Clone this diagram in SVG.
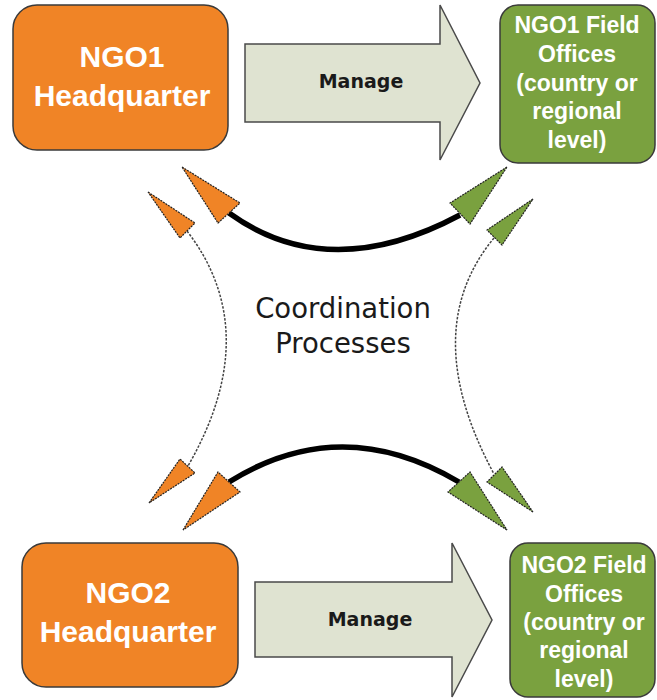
<svg xmlns="http://www.w3.org/2000/svg" width="657" height="700" viewBox="0 0 657 700">
<style>
.hq{fill:#f08426;stroke:#3a3a3a;stroke-width:1.5}
.fo{fill:#7aa13f;stroke:#3a3a3a;stroke-width:1.5}
.mg{fill:#dfe3d1;stroke:#4a4a4a;stroke-width:1.5}
.hqt{font-family:"Liberation Sans",Arial,sans-serif;font-weight:bold;font-size:30px;fill:#ffffff;text-anchor:middle}
.fot{font-family:"Liberation Sans",Arial,sans-serif;font-weight:bold;font-size:23px;fill:#ffffff;text-anchor:middle}
.mgt{font-family:"DejaVu Sans",Verdana,sans-serif;font-weight:bold;font-size:19px;fill:#1a1a1a;text-anchor:middle}
.ct{font-family:"DejaVu Sans",Verdana,sans-serif;font-size:27.5px;fill:#1a1a1a;text-anchor:middle}
.solid{fill:none;stroke:#000;stroke-width:5.5}
.dash{fill:none;stroke:#444;stroke-width:1.5;stroke-dasharray:2.5,1.5}
.ah{stroke:#222;stroke-width:1.2;stroke-dasharray:2,1}
.or{fill:#f08426}
.gr{fill:#7aa13f}
</style>
<rect width="657" height="700" fill="#ffffff"/>

<g id="ngo1-hq">
<rect class="hq" x="13" y="5" width="215" height="145" rx="24"/>
<text class="hqt" x="122" y="67">NGO1</text>
<text class="hqt" x="122" y="106">Headquarter</text>
</g>

<g id="manage1">
<polygon class="mg" points="245,44 440,44 440,5 480,83 440,160 440,122 245,122"/>
<text class="mgt" x="361" y="88">Manage</text>
</g>

<g id="ngo1-field">
<rect class="fo" x="500" y="5" width="155" height="158" rx="18"/>
<text class="fot" x="577" y="33">NGO1 Field</text>
<text class="fot" x="577" y="62">Offices</text>
<text class="fot" x="577" y="91">(country or</text>
<text class="fot" x="577" y="119">regional</text>
<text class="fot" x="577" y="148">level)</text>
</g>

<g id="ngo2-hq">
<rect class="hq" x="22" y="543" width="216" height="144" rx="24"/>
<text class="hqt" x="128" y="603">NGO2</text>
<text class="hqt" x="128" y="642">Headquarter</text>
</g>

<g id="manage2">
<polygon class="mg" points="255,582 452,582 452,543 492,620 452,697 452,657 255,657"/>
<text class="mgt" x="370" y="626">Manage</text>
</g>

<g id="ngo2-field">
<rect class="fo" x="510" y="543" width="145" height="154" rx="18"/>
<text class="fot" x="584" y="573">NGO2 Field</text>
<text class="fot" x="584" y="602">Offices</text>
<text class="fot" x="584" y="630">(country or</text>
<text class="fot" x="584" y="658">regional</text>
<text class="fot" x="584" y="687">level)</text>
</g>

<g id="coordination">
<text class="ct" x="343" y="318">Coordination</text>
<text class="ct" x="343" y="353">Processes</text>
</g>

<g id="connectors">
<path class="solid" d="M229,213 Q329,285 460,215"/>
<path class="solid" d="M229,482 Q341,412 459,482"/>
<path class="dash" d="M187,231 Q265,332 188,466"/>
<path class="dash" d="M494,238 Q417,331 494,474"/>
<polygon class="ah or" points="182,167 240,203 218,223"/>
<polygon class="ah or" points="148,192 195,223 180,238"/>
<polygon class="ah gr" points="507,167 450,203 470,224"/>
<polygon class="ah gr" points="533,199 487,230 502,245"/>
<polygon class="ah or" points="183,530 218,472 240,492"/>
<polygon class="ah or" points="149,503 180,459 195,473"/>
<polygon class="ah gr" points="507,530 448,492 470,472"/>
<polygon class="ah gr" points="533,512 487,482 502,467"/>
</g>
</svg>
